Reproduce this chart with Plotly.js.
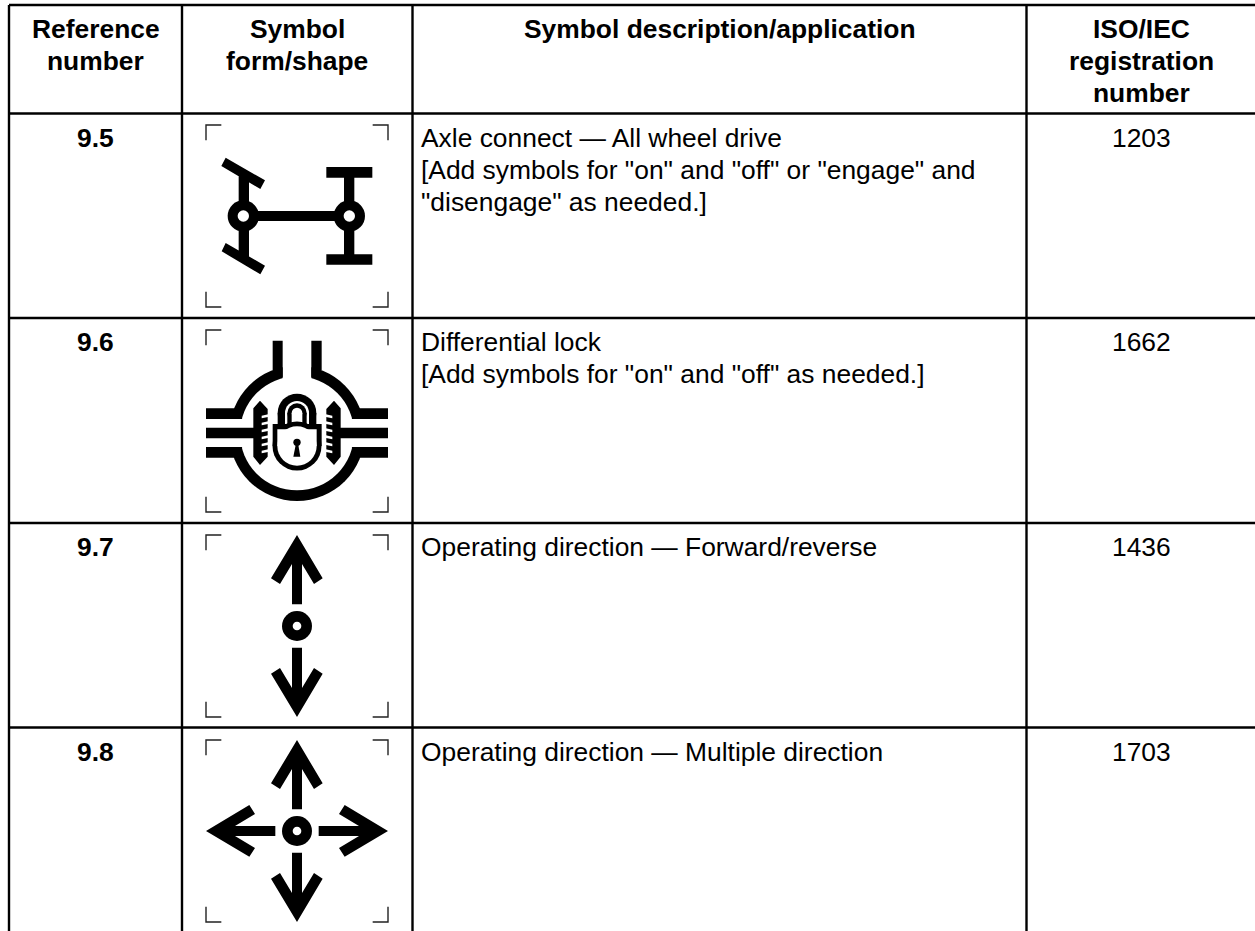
<!DOCTYPE html>
<html>
<head>
<meta charset="utf-8">
<script src="https://cdn.plot.ly/plotly-3.0.1.min.js"></script>
<style>html,body{margin:0;padding:0;background:#fff;overflow:hidden}</style>
</head>
<body>
<div id="chart" style="width:1255px;height:931px"></div>
<script>
// ---------- table content ----------
const headers = [
  ["Reference", "number"],
  ["Symbol", "form/shape"],
  ["Symbol description/application"],
  ["ISO/IEC", "registration", "number"]
];
const referenceNumbers = ["9.5", "9.6", "9.7", "9.8"];
const descriptions = [
  ["Axle connect \u2014 All wheel drive", "[Add symbols for \"on\" and \"off\" or \"engage\" and", "\"disengage\" as needed.]"],
  ["Differential lock", "[Add symbols for \"on\" and \"off\" as needed.]"],
  ["Operating direction \u2014 Forward/reverse"],
  ["Operating direction \u2014 Multiple direction"]
];
const registrationNumbers = ["1203", "1662", "1436", "1703"];

// ---------- table grid (axis units) ----------
const columnEdges = [9, 182, 412.5, 1026.5];
const rowEdges = [5, 113.5, 318, 523, 727.5];
const columnCentres = [95.5, 297, 720, 1141];
const descriptionLeft = 418.5;
const symbolLeft = 206;
const symbolTops = [125, 330, 535, 740];

// ---------- symbol outlines, in a 546-unit symbol frame ----------
const wheels = [
  [[59,98],[177,166],[163,192],[46,123]],
  [[59,354],[177,422],[163,448],[47,379]],
  [[361,126],[499,126],[499,158],[361,158]],
  [[361,388],[499,388],[499,419],[361,419]]
];
const axleBeams = [
  [[98,150],[129,150],[129,395],[98,395]],
  [[414,158],[445,158],[445,388],[414,388]],
  [[112,258],[430,258],[430,288],[112,288]]
];
const axleHubs = [[112,273],[430,273]];

const lockStems = [
  [[200,32],[230,32],[230,142],[200,120]],
  [[316,32],[347,32],[347,120],[316,142]]
];
const lockRingGaps = [
  [[230,90],[316,90],[316,150],[230,150]],
  [[50,267],[112,267],[112,351],[50,351]],
  [[434,267],[496,267],[496,351],[434,351]]
];
const lockBars = [
  [[0,235],[88,235],[109,267],[0,267]],
  [[0,351],[109,351],[88,383],[0,383]],
  [[0,293],[170,293],[170,325],[0,325]],
  [[546,235],[458,235],[437,267],[546,267]],
  [[546,351],[437,351],[458,383],[546,383]],
  [[546,293],[376,293],[376,325],[546,325]]
];
const lockGears = [
  [[162,212],[185,237],[185,380],[162,405],[142,380],[142,235]],
  [[384,212],[361,237],[361,380],[384,405],[404,380],[404,235]]
];
const lockGearSlits = [
  [[167,257],[190,252],[190,260],[167,265]],
  [[167,278],[190,273],[190,281],[167,286]],
  [[167,299],[190,294],[190,302],[167,307]],
  [[167,320],[190,315],[190,323],[167,328]],
  [[167,341],[190,336],[190,344],[167,349]],
  [[167,362],[190,357],[190,365],[167,370]],
  [[379,257],[356,252],[356,260],[379,265]],
  [[379,278],[356,273],[356,281],[379,286]],
  [[379,299],[356,294],[356,302],[379,307]],
  [[379,320],[356,315],[356,323],[379,328]],
  [[379,341],[356,336],[356,344],[379,349]],
  [[379,362],[356,357],[356,365],[379,370]]
];
const shackleOuter = [[215,249],[331,249],[331,285],[215,285]];
const shackleGap = [[237,249],[309,249],[309,285],[237,285]];
const shackleInner = [[244,249],[302,249],[302,285],[244,285]];
const shackleCore = [[257,249],[289,249],[289,285],[257,285]];
const lockBody = [[200,282],[347,282],[347,348],[200,348]];
const lockWindow = [[214,298],[332,298],[332,348],[214,348]];
const keyholeStem = [[269,345],[277,345],[283,380],[262,380]];

const arrowUp = [[273,0],[350,130],[324,147],[288,87],[288,208],[258,208],[258,87],[222,147],[195,130]];
const arrowDown = [[273,546],[350,416],[324,399],[288,459],[288,338],[258,338],[258,459],[222,399],[195,416]];
const arrowLeft = [[0,273],[130,350],[147,324],[87,288],[208,288],[208,258],[87,258],[147,222],[130,195]];
const arrowRight = [[546,273],[416,350],[399,324],[459,288],[338,288],[338,258],[459,258],[399,222],[416,195]];
const arrowHub = [[273,273]];

const cropMarks = [
  [[0,46],[0,0],[46,0]],
  [[500,0],[546,0],[546,46]],
  [[0,500],[0,546],[46,546]],
  [[500,546],[546,546],[546,500]]
];

// ---------- drawing helpers ----------
const unit = 1 / 3;
const traces = [];
function place(pts, row) {
  const x = [], y = [];
  pts.forEach(p => { x.push(symbolLeft + p[0] * unit); y.push(symbolTops[row] + p[1] * unit); });
  return {x, y};
}
function fillPolys(polys, row, color) {
  const x = [], y = [];
  polys.forEach(poly => {
    const p = place(poly.concat([poly[0]]), row);
    x.push(...p.x, null); y.push(...p.y, null);
  });
  traces.push({type:'scatter', mode:'lines', x, y, fill:'toself', fillcolor:color,
    line:{width:0, color:color}, hoverinfo:'skip', showlegend:false});
}
function dots(centres, row, radius, color) {
  const p = place(centres, row);
  traces.push({type:'scatter', mode:'markers', x:p.x, y:p.y, hoverinfo:'skip', showlegend:false,
    marker:{symbol:'circle', size:2 * radius * unit, color:color, line:{width:0}}});
}
function strokes(lines, row, color, width) {
  const x = [], y = [];
  lines.forEach(l => { const p = place(l, row); x.push(...p.x, null); y.push(...p.y, null); });
  traces.push({type:'scatter', mode:'lines', x, y, line:{color, width}, hoverinfo:'skip', showlegend:false});
}

// crop marks in every row
symbolTops.forEach((_, r) => strokes(cropMarks, r, '#222222', 1.4));

// 9.5 axle connect
fillPolys(wheels.concat(axleBeams), 0, '#000');
dots(axleHubs, 0, 47, '#000');
dots(axleHubs, 0, 17, '#fff');

// 9.6 differential lock
dots([[273,310]], 1, 203, '#000');
dots([[273,310]], 1, 171, '#fff');
fillPolys(lockRingGaps, 1, '#fff');
fillPolys(lockStems.concat(lockBars).concat(lockGears), 1, '#000');
fillPolys(lockGearSlits, 1, '#fff');
fillPolys([shackleOuter], 1, '#000'); dots([[273,249]], 1, 58, '#000');
fillPolys([shackleGap], 1, '#fff');   dots([[273,249]], 1, 36, '#fff');
fillPolys([shackleInner], 1, '#000'); dots([[273,249]], 1, 29, '#000');
fillPolys([shackleCore], 1, '#fff');  dots([[273,249]], 1, 16, '#fff');
fillPolys([lockBody], 1, '#000');     dots([[273,348]], 1, 73.5, '#000');
fillPolys([lockWindow], 1, '#fff');   dots([[273,348]], 1, 59, '#fff');
dots([[273,337]], 1, 11, '#000');
fillPolys([keyholeStem], 1, '#000');

// 9.7 forward / reverse
fillPolys([arrowUp, arrowDown], 2, '#000');
dots(arrowHub, 2, 45, '#000');
dots(arrowHub, 2, 13, '#fff');

// 9.8 multiple direction
fillPolys([arrowUp, arrowDown, arrowLeft, arrowRight], 3, '#000');
dots(arrowHub, 3, 45, '#000');
dots(arrowHub, 3, 13, '#fff');

// ---------- grid lines ----------
const gridX = [], gridY = [];
columnEdges.forEach(cx => { gridX.push(cx, cx, null); gridY.push(rowEdges[0], 931, null); });
rowEdges.forEach(ry => { gridX.push(columnEdges[0], 1255, null); gridY.push(ry, ry, null); });
traces.push({type:'scatter', mode:'lines', x:gridX, y:gridY, line:{color:'#000', width:2.4},
  hoverinfo:'skip', showlegend:false, cliponaxis:false});

// ---------- text ----------
const annotations = [];
const FONT = '"Liberation Sans", Arial, sans-serif';
const bodySize = 26.4, lineGap = 32;
function label(text, x, y, anchor, bold) {
  annotations.push({x, y, text: bold ? '<b>' + text + '</b>' : text, xref:'x', yref:'y',
    xanchor:anchor, yanchor:'middle', showarrow:false, align:anchor,
    font:{family:FONT, size:bodySize, color:'#000'}});
}
headers.forEach((lines, c) => lines.forEach((t, i) => label(t, columnCentres[c], 28.5 + i * lineGap, 'center', true)));
referenceNumbers.forEach((t, r) => label(t, columnCentres[0], rowEdges[r + 1] + 24, 'center', true));
registrationNumbers.forEach((t, r) => label(t, columnCentres[3], rowEdges[r + 1] + 24, 'center', false));
descriptions.forEach((lines, r) => lines.forEach((t, i) => label(t, descriptionLeft, rowEdges[r + 1] + 24 + i * lineGap, 'left', false)));

const layout = {
  width:1255, height:931, margin:{l:0, r:0, t:0, b:0},
  paper_bgcolor:'#fff', plot_bgcolor:'#fff', showlegend:false,
  xaxis:{range:[0,1255], visible:false, fixedrange:true},
  yaxis:{range:[931,0], visible:false, fixedrange:true},
  annotations
};
Plotly.newPlot('chart', traces, layout, {displayModeBar:false, staticPlot:true});
</script>
</body>
</html>
